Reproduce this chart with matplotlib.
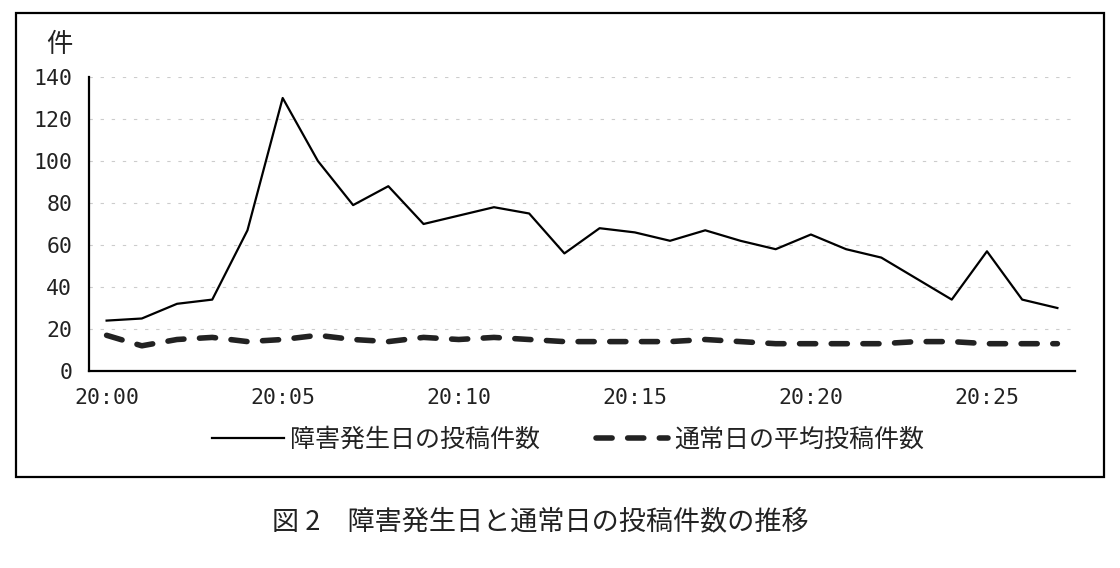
import matplotlib
matplotlib.use('Agg')
from matplotlib import pyplot as plt
from matplotlib.patches import Rectangle

# minutes from 20:00 to 20:27
times = [f'20:{m:02d}' for m in range(28)]
incident_day = [24, 25, 32, 34, 67, 130, 100, 79, 88, 70,
                74, 78, 75, 56, 68, 66, 62, 67, 62, 58,
                65, 58, 54, 44, 34, 57, 34, 30]
normal_day_avg = [17, 12, 15, 16, 14, 15, 17, 15, 14, 16,
                  15, 16, 15, 14, 14, 14, 14, 15, 14, 13,
                  13, 13, 13, 14, 14, 13, 13, 13]
y_ticks = [0, 20, 40, 60, 80, 100, 120, 140]
x_ticks = [0, 5, 10, 15, 20, 25]

jp_font = ['Noto Sans CJK JP', 'DejaVu Sans']
num_font = ['DejaVu Sans Mono']

fig = plt.figure(figsize=(11.2, 5.68), dpi=100)
ax = fig.add_axes([89 / 1120, 1 - 371 / 568, 986 / 1120, 294 / 568])

x = list(range(len(times)))
ax.plot(x, incident_day, color='black', linewidth=1.6,
        label='障害発生日の投稿件数')
ax.plot(x, normal_day_avg, color='#222222', linewidth=4.0,
        linestyle=(0, (2.9, 2.8)), dash_capstyle='round',
        label='通常日の平均投稿件数')

ax.set_xlim(-0.5, 27.5)
ax.set_ylim(0, 140)
ax.set_yticks(y_ticks)
ax.set_xticks(x_ticks)
ax.set_xticklabels([times[i] for i in x_ticks])
for lab in ax.get_xticklabels() + ax.get_yticklabels():
    lab.set_family(num_font)
    lab.set_fontsize(15.5)
    lab.set_color('#222222')
ax.tick_params(length=0, pad=12)

for v in y_ticks[1:]:
    ax.axhline(v, color='#cccccc', linewidth=0.8,
               linestyle=(0, (3, 7)), zorder=0)

for side in ('top', 'right'):
    ax.spines[side].set_visible(False)
for side in ('left', 'bottom'):
    ax.spines[side].set_linewidth(1.6)
    ax.spines[side].set_color('black')

fig.text(59 / 1120, 1 - 45 / 568, '件', family=jp_font, fontsize=19,
         ha='center', va='center', color='#222222')

leg = ax.legend(loc='center', bbox_to_anchor=(568 / 1120, 1 - 440 / 568),
                bbox_transform=fig.transFigure, ncol=2, frameon=False,
                prop={'family': jp_font, 'size': 18},
                handlelength=2.9, handletextpad=0.25, columnspacing=2.2)
for t in leg.get_texts():
    t.set_color('#222222')

fig.patches.append(Rectangle((16 / 1120, 1 - 477 / 568),
                             1088 / 1120, 464 / 568,
                             transform=fig.transFigure, fill=False,
                             edgecolor='black', linewidth=1.6))

fig.text(540 / 1120, 1 - 522 / 568, '図 2\u3000障害発生日と通常日の投稿件数の推移',
         family=jp_font, fontsize=19.5, ha='center', va='center',
         color='#222222')

plt.savefig('out.png', dpi=100)
